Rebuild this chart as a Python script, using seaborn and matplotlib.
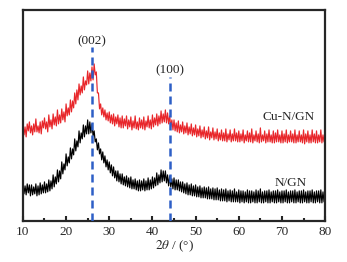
import numpy as np
import pandas as pd
import matplotlib
matplotlib.use("Agg")
import matplotlib.pyplot as plt
import seaborn as sns

# ---- data ----
two_theta = [10 + 0.25 * i for i in range(281)]

cu_ngn = [
    97, 86, 94, 84,  97, 90, 99, 88,  95, 86, 97, 89,  102, 89, 95, 88,  99, 87, 100, 93,
    103, 92, 99, 89,  106, 94, 101, 92,  107, 96, 104, 95,  111, 97, 106, 98,  112, 101, 109, 99,
    117, 105, 113, 106,  121, 109, 120, 113,  128, 117, 131, 121,  137, 126, 135, 128,  144, 131, 140, 136,
    150, 137, 148, 140,  154, 141, 157, 146,  149, 128, 128, 112,  117, 106, 113, 104,  111, 101, 108, 100,
    109, 98, 106, 97,  107, 95, 104, 97,  106, 94, 103, 93,  105, 93, 102, 95,  105, 92, 101, 94,
    104, 91, 100, 93,  105, 92, 99, 91,  103, 93, 101, 92,  104, 91, 100, 94,  105, 93, 101, 92,
    106, 94, 103, 96,  107, 95, 105, 97,  110, 98, 107, 99,  111, 98, 108, 97,  105, 94, 101, 91,
    101, 90, 98, 89,  100, 88, 96, 89,  99, 87, 95, 88,  98, 86, 94, 87,  97, 85, 93, 86,
    96, 84, 92, 85,  95, 83, 91, 84,  94, 82, 90, 83,  94, 81, 89, 83,  93, 81, 89, 82,
    92, 80, 88, 81,  91, 80, 88, 80,  92, 79, 87, 81,  91, 79, 87, 80,  92, 80, 88, 79,
    90, 79, 87, 80,  91, 78, 86, 80,  90, 79, 88, 79,  92, 78, 86, 80,  90, 79, 87, 78,
    93, 79, 86, 80,  90, 78, 87, 79,  91, 79, 86, 78,  90, 78, 88, 79,  91, 79, 86, 78,
    90, 78, 87, 79,  91, 78, 86, 79,  90, 79, 87, 78,  91, 78, 86, 79,  90, 79, 86, 78,
    91, 77, 87, 79,  90, 78, 86, 78,  91, 79, 87, 78,  90, 78, 86, 79,  91, 78, 86, 79,
    84]

ngn = [
    38, 27, 35, 26,  37, 28, 36, 25,  36, 26, 34, 27,  37, 25, 35, 26,  38, 27, 36, 28,
    39, 28, 37, 29,  41, 30, 40, 32,  46, 34, 44, 37,  51, 39, 50, 42,  59, 47, 57, 51,
    67, 55, 64, 58,  73, 62, 72, 66,  82, 70, 80, 74,  90, 78, 88, 82,  96, 84, 95, 87,
    101, 87, 99, 88,  97, 85, 90, 79,  82, 71, 78, 67,  72, 61, 69, 58,  65, 54, 61, 51,
    59, 48, 56, 45,  54, 43, 50, 40,  50, 39, 47, 37,  47, 36, 44, 35,  45, 34, 43, 33,
    44, 32, 41, 32,  42, 31, 40, 30,  41, 30, 40, 31,  42, 30, 40, 31,  43, 31, 41, 32,
    44, 33, 43, 35,  48, 36, 46, 38,  51, 39, 50, 40,  50, 38, 46, 35,  45, 34, 42, 32,
    43, 31, 41, 31,  41, 30, 39, 29,  39, 28, 37, 27,  38, 26, 36, 26,  37, 25, 35, 25,
    36, 24, 34, 24,  35, 23, 33, 23,  34, 23, 33, 22,  34, 22, 32, 22,  33, 21, 32, 21,
    33, 21, 31, 20,  32, 20, 31, 20,  32, 19, 30, 20,  31, 19, 30, 19,  32, 19, 29, 19,
    31, 18, 30, 19,  30, 18, 29, 19,  31, 18, 30, 18,  30, 19, 29, 18,  31, 18, 30, 19,
    32, 18, 29, 18,  30, 19, 30, 18,  31, 18, 29, 19,  30, 18, 30, 18,  31, 19, 29, 18,
    30, 18, 30, 19,  31, 18, 29, 18,  30, 19, 30, 18,  31, 18, 29, 19,  30, 18, 30, 18,
    31, 19, 29, 18,  30, 18, 30, 19,  31, 18, 29, 18,  30, 19, 30, 18,  31, 18, 29, 19,
    25]

sample_names = ["Cu-N/GN", "N/GN"]
sample_colors = ["#e8262a", "#000000"]
name_x = [71.5, 72.0]
name_y = [104, 38]

peak_pos = [26.0, 44.1]
peak_top = [174, 144]
peak_labels = ["(002)", "(100)"]
peak_label_y = [180, 151]

xticks = [10, 20, 30, 40, 50, 60, 70, 80]

# ---- plot ----
sns.set_style("ticks")
plt.rcParams["font.family"] = ["Liberation Serif", "DejaVu Serif"]
plt.rcParams["mathtext.fontset"] = "stix"

fig = plt.figure(figsize=(3.47, 2.62), dpi=100)
ax = fig.add_axes([0.066, 0.157, 0.871, 0.805])

df = pd.DataFrame({
    "x": two_theta * 2,
    "y": cu_ngn + ngn,
    "s": [sample_names[0]] * len(two_theta) + [sample_names[1]] * len(two_theta),
})
sns.lineplot(data=df, x="x", y="y", hue="s", palette=dict(zip(sample_names, sample_colors)),
             linewidth=0.85, legend=False, ax=ax, estimator=None, sort=False)

for px, pt, pl, py in zip(peak_pos, peak_top, peak_labels, peak_label_y):
    ax.plot([px, px], [0, pt], color="#2d5fc6", linewidth=1.8, linestyle=(0, (3.2, 2.0)), zorder=5)
    ax.text(px, py, pl, ha="center", va="center", fontsize=9.5)

for nm, nx, ny in zip(sample_names, name_x, name_y):
    ax.text(nx, ny, nm, ha="center", va="center", fontsize=9.5)

ax.set_xlim(10, 80)
ax.set_ylim(0, 211)
ax.set_xticks(xticks)
ax.set_xticklabels([str(t) for t in xticks], fontsize=9.5)
ax.set_xticks([15, 25, 35, 45, 55, 65, 75], minor=True)
ax.set_yticks([])
ax.tick_params(axis="x", which="major", direction="in", length=3.5, width=1.5, pad=4)
ax.tick_params(axis="x", which="minor", direction="in", length=2, width=1.5)
ax.set_xlabel(r"$2\theta$ / (°)", fontsize=9.5, labelpad=0)
ax.set_ylabel("")
for sp in ax.spines.values():
    sp.set_linewidth(1.6)
    sp.set_visible(True)

fig.savefig("out.png", dpi=100)
